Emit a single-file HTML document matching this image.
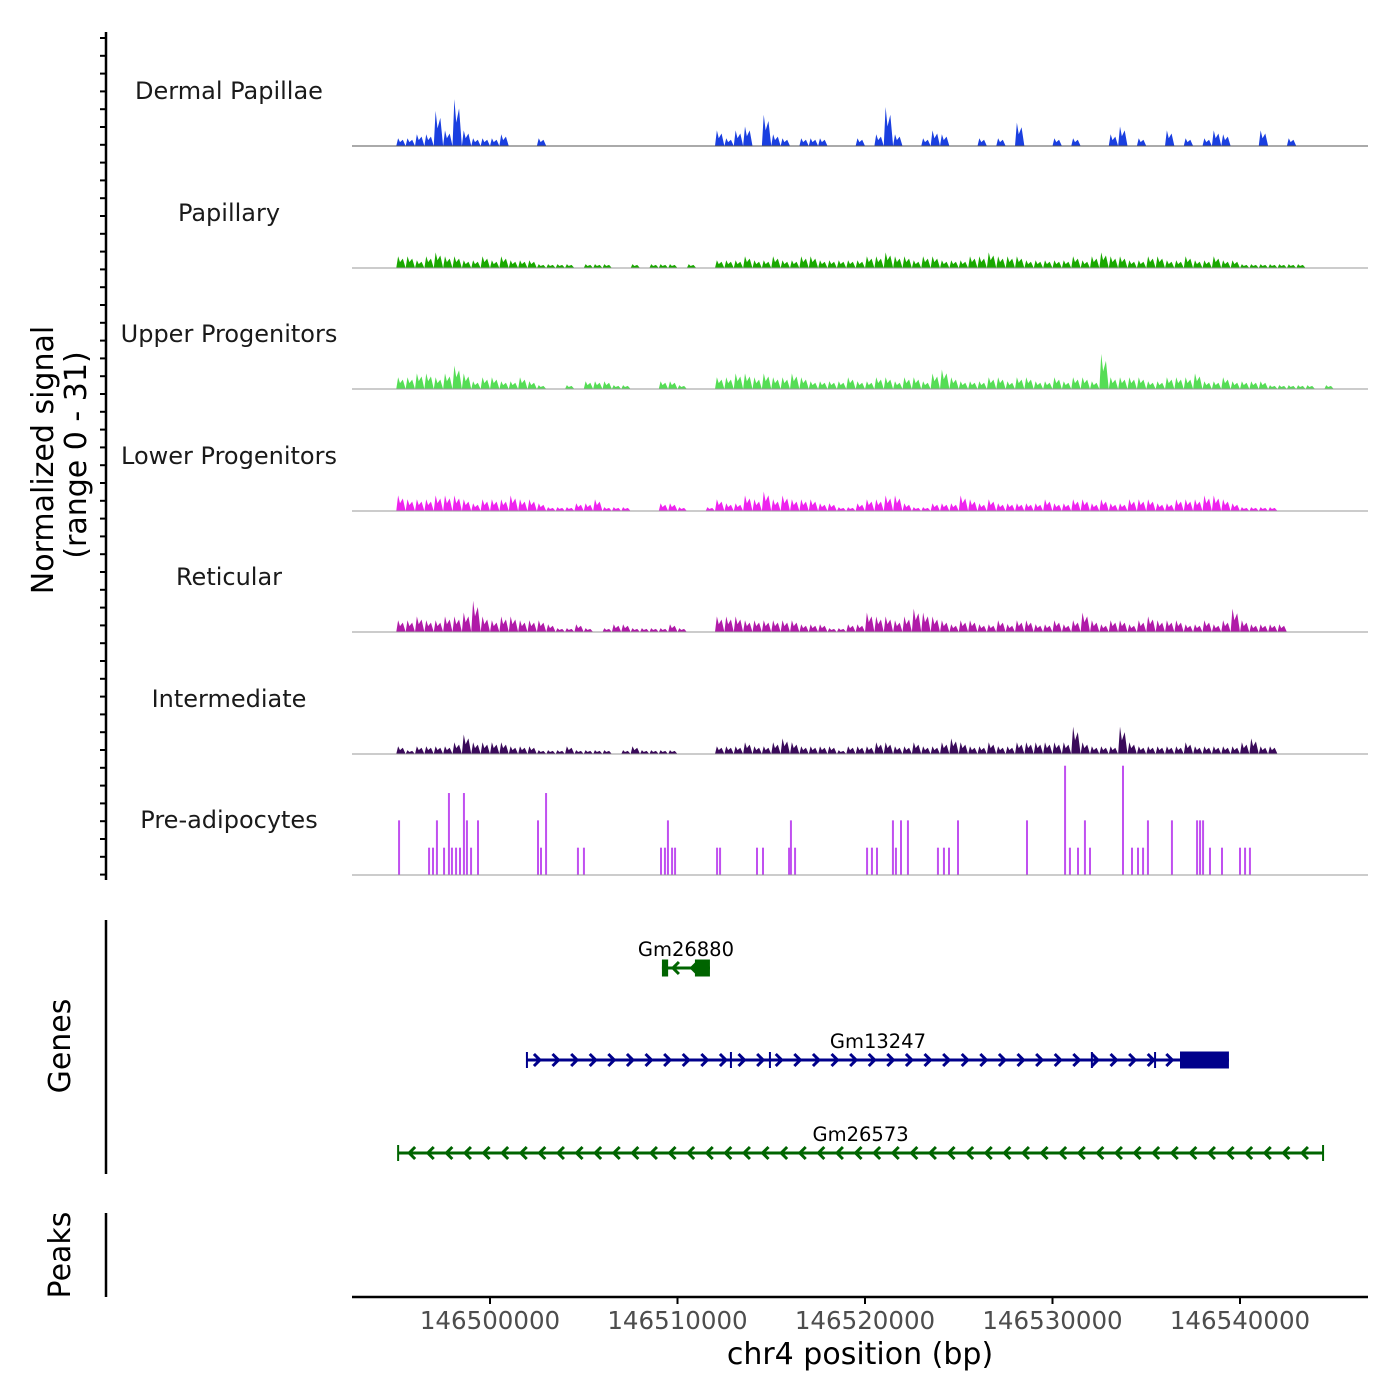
<!DOCTYPE html>
<html><head><meta charset="utf-8"><style>
html,body{margin:0;padding:0;background:#fff}
svg{display:block;font-family:"DejaVu Sans","Liberation Sans",sans-serif}
</style></head><body>
<svg id="chart" width="1400" height="1400" viewBox="0 0 1400 1400" xmlns="http://www.w3.org/2000/svg">
<g id="tracks"></g>
<g id="genes"></g>
<g id="axes"></g>
</svg>
<script>
const trackNames = ["Dermal Papillae","Papillary","Upper Progenitors","Lower Progenitors","Reticular","Intermediate","Pre-adipocytes"];
const trackColors = ["#1a3fe0","#19a800","#55dd55","#ee22ee","#b01aa8","#3a0a5a","#c050f0"];
const binStartBp = 146495000;
const binSizeBp = 500;
const dermalValues = [2,2,3,3,9,4,12,4,2,2, 2,3,0,0,0,2,0,0,0,0, 0,0,0,0,0,0,0,0,0,0, 0,0,0,0,4,2,4,5,0,8, 3,2,0,2,2,2,0,0,0,2, 0,3,10,3,0,0,2,4,3,0, 0,0,2,0,2,0,6,0,0,0, 2,0,2,0,0,0,3,5,0,2, 0,0,4,0,2,0,2,4,3,0, 0,0,4,0,0,2,0,0,0,0];
const papillaryValues = [3,3,2,3,4,3,3,2,2,3, 2,3,2,2,2,1,1,1,1,0, 1,1,1,0,0,1,0,1,1,1, 0,1,0,0,2,2,2,3,2,2, 3,2,2,3,3,2,2,2,2,2, 3,3,4,3,3,2,3,3,2,2, 2,3,3,4,3,3,3,2,2,2, 2,2,3,2,3,4,3,3,2,2, 3,3,2,2,3,2,2,3,2,2, 1,1,1,1,1,1,1,0,0,0];
const upperValues = [3,3,4,4,3,4,6,4,2,3, 3,2,2,3,2,1,0,0,1,0, 2,2,2,1,1,0,0,0,2,2, 1,0,0,0,3,3,4,4,3,4, 3,3,4,3,2,2,2,2,3,2, 2,3,3,2,3,3,2,4,5,3, 2,2,2,3,3,2,3,3,2,2, 3,2,3,3,2,9,3,3,3,3, 2,2,3,3,3,4,2,2,3,2, 2,2,2,1,1,1,1,1,0,1];
const lowerValues = [4,3,3,3,4,4,4,3,2,3, 3,3,4,3,3,2,1,1,1,2, 2,3,1,1,1,0,0,0,2,2, 1,0,0,1,3,2,2,4,3,5, 3,4,3,3,3,2,2,1,1,2, 3,3,4,4,2,1,1,2,2,2, 4,3,2,3,2,2,2,2,2,3, 2,2,3,3,2,3,2,2,3,3, 3,2,2,3,3,3,4,4,3,2, 1,1,1,1,0,0,0,0,0,0];
const reticularValues = [3,3,4,3,3,4,4,5,8,4, 3,4,4,3,3,3,2,1,1,2, 1,0,1,2,2,1,1,1,1,2, 1,0,0,0,4,4,4,3,3,3, 3,3,3,2,2,2,1,1,2,2, 5,4,4,3,4,6,5,4,3,2, 3,3,2,2,3,2,3,3,2,2, 3,2,3,5,3,2,3,3,2,3, 4,3,3,3,2,2,3,2,3,6, 3,2,2,2,2,0,0,0,0,0];
const intermediateValues = [2,1,2,2,2,2,3,5,3,3, 3,3,2,2,2,1,1,1,2,1, 1,1,1,0,1,2,1,1,1,1, 0,0,0,0,2,2,2,3,2,2, 3,4,3,2,2,2,2,1,2,2, 2,3,3,2,2,3,2,2,3,4, 3,2,2,3,2,2,3,3,3,3, 3,3,7,3,2,2,2,7,3,2, 2,2,2,2,3,2,2,2,2,2, 3,4,2,2,0,0,0,0,0,0];
const preadPosKb = [-4.85,-3.25,-3.04,-2.83,-2.45,-2.19,-2.03,-1.81,-1.6,-1.39,-1.23,-1.01,-0.64,2.56,2.72,2.99,4.69,5.01,9.12,9.33,9.49,9.71,9.87,12.11,12.27,14.24,14.56,15.95,16.05,16.27,20.11,20.37,20.64,21.49,21.65,21.92,22.29,23.89,24.21,24.48,24.96,28.64,30.67,30.93,31.36,31.73,32.0,33.76,34.24,34.56,34.83,35.09,36.37,37.71,37.87,38.03,38.4,39.04,40.0,40.27,40.53];
const preadValues = [14,7,7,14,7,21,7,7,7,21,14,7,14,14,7,21,7,7,7,7,14,7,7,7,7,7,7,7,14,7,7,7,7,14,7,14,14,7,7,7,14,14,28,7,7,14,7,28,7,7,7,14,14,14,14,14,7,7,7,7,7];
const xTicks = [146500000,146510000,146520000,146530000,146540000];
const geneNames = ["Gm26880","Gm13247","Gm26573"];
const geneStartKb = [9.17,1.97,-4.9];
const geneEndKb = [11.73,39.41,44.43];
const geneStrand = [-1,1,-1];
const geneExonStartKb = [[9.17,10.93],[1.97,12.85,14.93,32.1,35.47,36.8],[-4.9,44.43]];
const geneExonEndKb = [[9.5,11.73],[1.97,12.85,14.93,32.1,35.47,39.41],[-4.9,44.43]];
const geneColors = ["#006400","#00008b","#006400"];

const NS="http://www.w3.org/2000/svg";
const X0=352,X1=1368;
function xs(bp){return 490+(bp-146500000)/10000*187.5;}
function xkb(kb){return xs(146500000+kb*1000);}
const baselines=[146,268,389,511,632,754,875];
const trackH=121, vmax=31;
function ys(v,i){return baselines[i]-v/vmax*trackH;}
function mk(tag,attrs,parent){const e=document.createElementNS(NS,tag);for(const k in attrs)e.setAttribute(k,attrs[k]);parent.appendChild(e);return e;}

const tracksG=document.getElementById('tracks');
const series=[dermalValues,papillaryValues,upperValues,lowerValues,reticularValues,intermediateValues];
series.forEach((vals,i)=>{
  let d=`M${xs(binStartBp)},${baselines[i]}`;
  vals.forEach((v,j)=>{
    const xa=xs(binStartBp+j*binSizeBp), xb=xs(binStartBp+(j+1)*binSizeBp), w=xb-xa;
    d+=` L${xa},${baselines[i]} L${xa+w*0.2},${ys(v,i)} L${xa+w*0.4},${ys(v*0.5,i)} L${xa+w*0.7},${ys(v*0.8,i)} L${xb},${baselines[i]}`;
  });
  d+='Z';
  const p=mk('path',{d:d,fill:trackColors[i],stroke:'none'},tracksG);
  
  
});
preadPosKb.forEach((kb,j)=>{
  const x=xkb(kb);
  const r=mk('rect',{x:x-1,y:ys(preadValues[j],6),width:2,height:baselines[6]-ys(preadValues[j],6),fill:trackColors[6]},tracksG);
  
  
});
trackNames.forEach((n,i)=>{
  const l=mk('line',{x1:X0,x2:X1,y1:baselines[i],y2:baselines[i],stroke:i==0?'#555':'#999','stroke-width':1},tracksG);
  
  
  const t=mk('text',{x:229,y:baselines[i]-47,'text-anchor':'middle','font-size':24,fill:'#1a1a1a'},tracksG);
  t.textContent=n;
  
  
});

const genesG=document.getElementById('genes');
const geneY=[968,1060,1153];
geneNames.forEach((g,i)=>{
  const y=geneY[i], c=geneColors[i];
  const xa=xkb(geneStartKb[i]), xb=xkb(geneEndKb[i]);
  const grp=mk('g',{},genesG);
  
  
  mk('line',{x1:xa,x2:xb,y1:y,y2:y,stroke:c,'stroke-width':3},grp);
  for(let x=xa+12;x<xb-6;x+=18.6){
    const s=geneStrand[i];
    mk('path',{d:`M${x-5*s},${y-6} L${x+1*s},${y} L${x-5*s},${y+6}`,fill:'none',stroke:c,'stroke-width':3},grp);
  }
  geneExonStartKb[i].forEach((s,k)=>{
    const e=geneExonEndKb[i][k];
    const ea=xkb(s), eb=xkb(e);
    if(eb-ea<1) mk('line',{x1:ea,x2:ea,y1:y-8,y2:y+8,stroke:c,'stroke-width':2},grp);
    else mk('rect',{x:ea,y:y-8.5,width:eb-ea,height:17,fill:c},grp);
  });
  const t=mk('text',{x:(xa+xb)/2,y:y-12,'text-anchor':'middle','font-size':19.5,fill:'#000'},grp);
  t.textContent=g;
});

const axesG=document.getElementById('axes');
function line(x1,y1,x2,y2,w,name){const l=mk('line',{x1,y1,x2,y2,stroke:'#000','stroke-width':w},axesG);}
line(106,32,106,880,2.5,'y-axis-line');
for(let y=38;y<=878;y+=17.8){line(100,y,106,y,2,'y-axis-tick');}
line(106,920,106,1174,2.5,'genes-axis-line');
line(106,1213,106,1297,2.5,'peaks-axis-line');
line(352,1297,1368,1297,2.5,'x-axis-line');
xTicks.forEach(v=>{
  const x=xs(v);
  line(x,1297,x,1304,2,'x-axis-tick');
  const t=mk('text',{x:x,y:1329,'text-anchor':'middle','font-size':24.5,fill:'#4d4d4d'},axesG);
  t.textContent=v;
  
  
});
function txt(s,x,y,size,rot,name){const t=mk('text',{x,y,'text-anchor':'middle','font-size':size,fill:'#000',transform:rot?`rotate(-90 ${x} ${y})`:''},axesG);t.textContent=s;}
txt('chr4 position (bp)',860,1364,30,false,'x-axis-title');
txt('Normalized signal',53,460,30,true,'y-axis-title');
txt('(range 0 - 31)',86,455,30,true,'y-axis-subtitle');
txt('Genes',70,1046,30,true,'genes-label');
txt('Peaks',70,1255,30,true,'peaks-label');
</script>
</body></html>
